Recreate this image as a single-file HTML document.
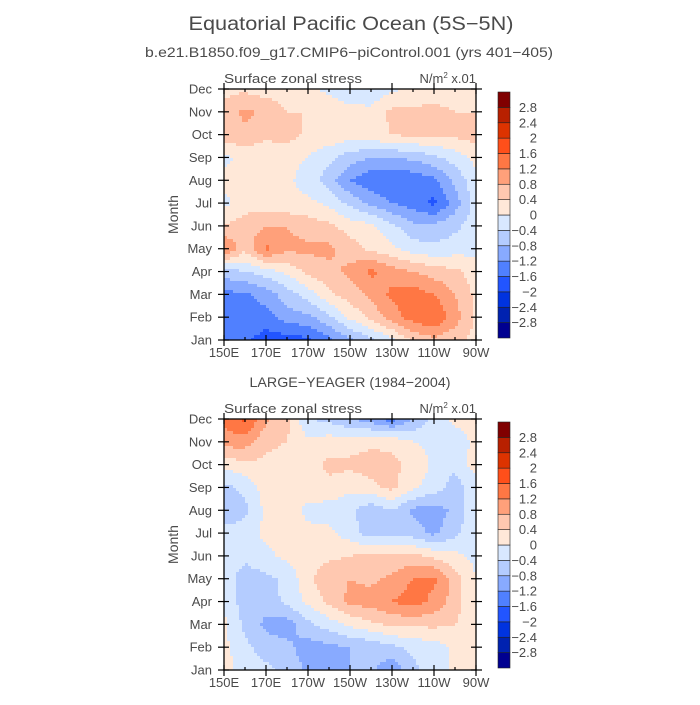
<!DOCTYPE html>
<html><head><meta charset="utf-8"><style>
html,body{margin:0;padding:0;background:#fff;}
svg text{font-family:"Liberation Sans",sans-serif;fill:#4a4a4a;}
</style></head><body>
<svg id="chart" width="700" height="700" viewBox="0 0 700 700" xmlns="http://www.w3.org/2000/svg">
<text x="351" y="30" font-size="19" text-anchor="middle" textLength="325" lengthAdjust="spacingAndGlyphs">Equatorial Pacific Ocean (5S−5N)</text>
<text x="349" y="57" font-size="14" text-anchor="middle" textLength="408" lengthAdjust="spacingAndGlyphs">b.e21.B1850.f09_g17.CMIP6−piControl.001 (yrs 401−405)</text>
<text x="350" y="387" font-size="14" text-anchor="middle" textLength="201" lengthAdjust="spacingAndGlyphs">LARGE−YEAGER (1984−2004)</text>
<g id="p1"></g>
<g id="p2"></g>
</svg>
<script>
const months = ["Jan","Feb","Mar","Apr","May","Jun","Jul","Aug","Sep","Oct","Nov","Dec"];
const lonLabels = ["150E","170E","170W","150W","130W","110W","90W"];
const lons = [150,160,170,180,190,200,210,220,230,240,250,260,270];
const levels = [-2.8,-2.4,-2,-1.6,-1.2,-0.8,-0.4,0,0.4,0.8,1.2,1.6,2,2.4,2.8];
const levelLabels = ["2.8","2.4","2","1.6","1.2","0.8","0.4","0","−0.4","−0.8","−1.2","−1.6","−2","−2.4","−2.8"];
const palette = ["#000090","#0022b0","#0033e0","#2255ff","#5080ff","#88aaff","#b4ccff","#d8e8ff","#ffe8d8","#ffc8b0","#ffa07a","#ff7744","#ff4f1a","#dd3300","#b82000","#800000"];
// rows Jan..Dec, columns 150E..90W every 10 deg
const modelStress = [
[-1.4,-1.5,-1.8,-1.8,-1.7,-1.3,-0.9,-0.5,-0.1,0.5,0.7,0.5,0.3],
[-1.4,-1.3,-1.4,-1.0,-0.9,-0.5,0.1,0.5,1.0,1.4,1.6,1.0,0.3],
[-1.3,-1.3,-1.0,-0.6,-0.2,0.3,0.6,0.9,1.3,1.4,1.2,0.8,0.3],
[-0.6,-0.4,-0.2,0.1,0.5,0.7,0.9,1.3,1.0,0.8,0.6,0.5,0.2],
[1.3,0.5,1.3,0.9,0.9,0.9,0.6,0.3,0.1,-0.2,-0.3,-0.2,-0.1],
[0.4,0.6,0.8,0.8,0.6,0.5,0.2,0.1,-0.3,-0.7,-0.7,-0.5,-0.2],
[-0.1,0.2,0.2,0.1,0.1,-0.1,-0.5,-0.9,-1.2,-1.4,-1.7,-1.0,-0.2],
[0.1,0.2,0.1,0.1,-0.2,-0.6,-1.2,-1.5,-1.6,-1.5,-1.3,-0.7,-0.1],
[-0.1,0.1,0.1,0.1,0.0,-0.3,-0.6,-0.8,-0.8,-0.7,-0.5,-0.2,0.1],
[0.7,0.7,0.5,0.6,0.3,0.3,0.2,0.3,0.4,0.5,0.5,0.5,0.6],
[0.5,0.9,0.7,0.4,0.4,0.3,0.2,0.1,0.5,0.5,0.5,0.4,0.4],
[0.3,0.3,0.2,0.2,0.1,-0.1,-0.4,-0.3,-0.1,0.1,0.2,0.2,0.2]];
const obsStress = [
[0.2,-0.2,-0.3,-0.5,-0.9,-1.0,-0.8,-0.7,-1.1,-0.5,-0.2,0.1,0.2],
[0.1,-0.3,-0.6,-0.7,-1.0,-0.9,-0.8,-0.7,-0.5,-0.3,-0.2,0.1,0.1],
[0.1,-0.5,-0.9,-1.0,-0.5,-0.2,0.1,0.3,0.5,0.5,0.5,0.4,0.1],
[-0.1,-0.6,-0.6,-0.3,0.1,0.5,0.9,1.0,1.2,1.4,1.1,0.6,0.0],
[-0.2,-0.6,-0.5,-0.3,0.3,0.7,0.8,0.7,0.9,1.2,1.3,0.6,0.0],
[-0.1,-0.3,-0.1,0.1,0.2,0.3,0.4,0.5,0.5,0.5,0.3,0.1,-0.1],
[-0.2,-0.2,0.1,0.2,0.1,0.1,-0.2,-0.6,-0.5,-0.6,-0.9,-0.5,-0.1],
[-0.8,-0.5,0.1,0.2,-0.1,-0.2,-0.3,-0.7,-0.4,-0.9,-1.0,-0.7,-0.1],
[-0.5,-0.3,0.2,0.2,0.2,0.3,0.1,0.3,0.5,0.1,-0.2,-0.6,-0.2],
[0.1,0.3,0.3,0.2,0.2,0.5,0.5,0.6,0.5,0.3,-0.1,-0.3,0.2],
[1.0,1.0,0.5,0.4,0.1,0.2,0.2,0.3,0.3,0.0,-0.1,-0.2,0.1],
[1.3,1.7,0.9,0.5,-0.4,-0.5,-0.8,-1.0,-1.4,-0.8,-0.3,0.1,0.1]];

const NS="http://www.w3.org/2000/svg";
function mk(tag,attrs,parent){const e=document.createElementNS(NS,tag);for(const k in attrs)e.setAttribute(k,attrs[k]);parent.appendChild(e);return e;}
function colorFor(v){let i=0;while(i<levels.length&&v>=levels[i])i++;return palette[i];}

function drawPanel(g,data,top,cbTop){
  const x0=224,x1=476,y0=top,y1=top+251;
  const xs=lon=>x0+(lon-150)/120*(x1-x0);
  const ys=m=>y1-m/11*(y1-y0);
  const field=mk('g',{},g);
  
  
  const step=3;
  for(let py=y0;py<y1;py+=step){
    const m=Math.min(11,Math.max(0,(y1-(py+step/2))/(y1-y0)*11));
    const mi=Math.min(10,Math.floor(m)),mf=m-mi;
    let runStart=x0,runCol=null;
    for(let px=x0;px<=x1;px+=step){
      let col=null;
      if(px<x1){
        const c=Math.min(12,Math.max(0,((px+step/2)-x0)/(x1-x0)*12));
        const ci=Math.min(11,Math.floor(c)),cf=c-ci;
        const v=(data[mi][ci]*(1-cf)+data[mi][ci+1]*cf)*(1-mf)+(data[mi+1][ci]*(1-cf)+data[mi+1][ci+1]*cf)*mf;
        col=colorFor(v);
      }
      if(col!==runCol){
        if(runCol){const w=Math.min(px,x1)-runStart;const r=mk('rect',{x:runStart,y:py,width:w+0.5,height:Math.min(step,y1-py)+0.5,fill:runCol},field);
          
          }
        runStart=px;runCol=col;
      }
    }
  }
  const frame=mk('rect',{x:x0,y:y0,width:x1-x0,height:y1-y0,fill:'none',stroke:'#000','stroke-width':1.3},g);
  
  
  months.forEach((mn,i)=>{
    const y=ys(i);
    mk('line',{x1:x0-6,y1:y,x2:x0+5,y2:y,stroke:'#000','stroke-width':1.2},g);
    mk('line',{x1:x1-5,y1:y,x2:x1+6,y2:y,stroke:'#000','stroke-width':1.2},g);
    const t=mk('text',{x:x0-12,y:y+4.5,'font-size':13,'text-anchor':'end'},g);
    t.textContent=mn;
    
    
  });
  lons.forEach((ln,i)=>{
    const x=xs(ln);const major=i%2===0;
    mk('line',{x1:x,y1:y1+(major?6:0),x2:x,y2:y1-(major?5:3),stroke:'#000','stroke-width':1.2},g);
    mk('line',{x1:x,y1:y0-(major?6:0),x2:x,y2:y0+(major?5:3),stroke:'#000','stroke-width':1.2},g);
    if(major){const t=mk('text',{x:x,y:y1+17,'font-size':13,'text-anchor':'middle'},g);
      t.textContent=lonLabels[i/2];
      
      }
  });
  const yt=mk('text',{x:178,y:(y0+y1)/2,'font-size':14,'text-anchor':'middle',transform:`rotate(-90 178 ${(y0+y1)/2})`},g);
  yt.textContent='Month';
  
  
  const lt=mk('text',{x:224,y:y0-6,'font-size':13,textLength:138,lengthAdjust:'spacingAndGlyphs'},g);
  lt.textContent='Surface zonal stress';
  
  
  const ut=mk('text',{x:476,y:y0-6,'font-size':13,'text-anchor':'end'},g);
  ut.innerHTML='N/m<tspan dy="-5" font-size="8">2</tspan><tspan dy="5"> x.01</tspan>';
  
  
  const cb=mk('g',{},g);
  
  
  const bx=498,bw=12,bh=246,n=palette.length,sh=bh/n;
  for(let i=0;i<n;i++){
    const r=mk('rect',{x:bx,y:cbTop+(n-1-i)*sh,width:bw,height:sh,fill:palette[i],stroke:'#222','stroke-width':0.6},cb);
    
    
  }
  levelLabels.forEach((lb,i)=>{
    const t=mk('text',{x:537,y:cbTop+(i+1)*sh+4.5,'font-size':13,'text-anchor':'end'},cb);
    t.textContent=lb;
    
    
  });
}
drawPanel(document.getElementById('p1'),modelStress,89,92);
drawPanel(document.getElementById('p2'),obsStress,419,422);
</script>
</body></html>
